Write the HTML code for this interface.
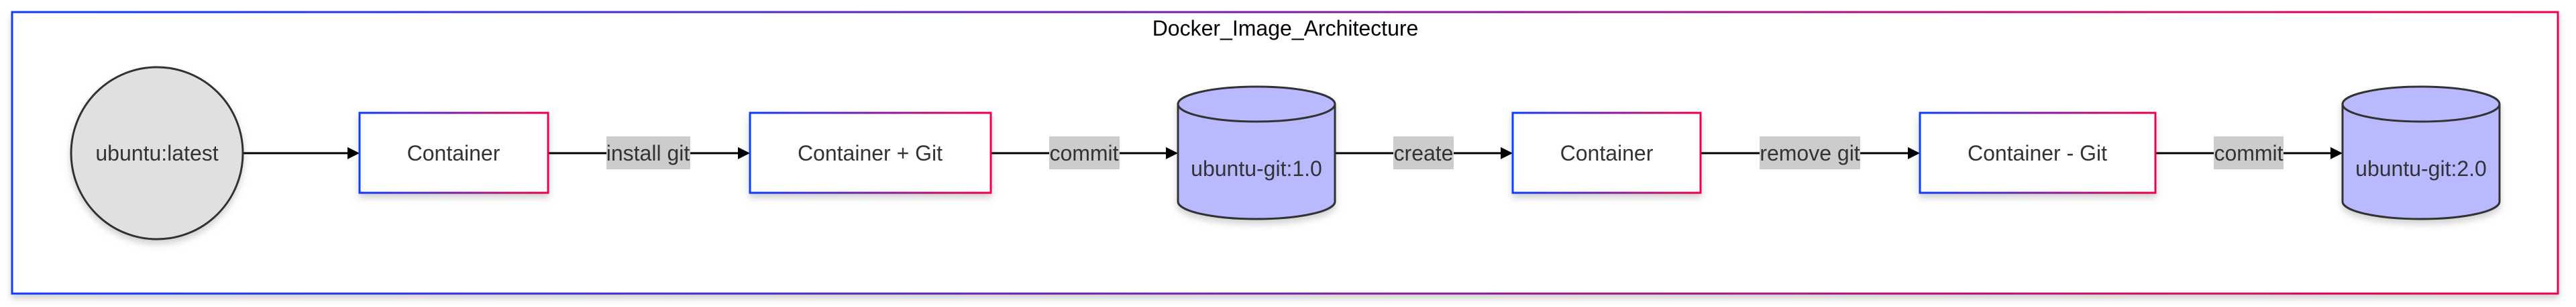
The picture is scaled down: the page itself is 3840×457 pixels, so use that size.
<!DOCTYPE html>
<html><head><meta charset="utf-8"><style>
html,body{margin:0;padding:0;background:#fff;width:3840px;height:457px;overflow:hidden}
svg{display:block}
text{font-family:"Liberation Sans",Arial,sans-serif;font-size:32px;fill:#333}
</style></head><body>
<svg width="3840" height="457" viewBox="0 0 3840 457">
<defs>
<linearGradient id="g" x1="0" y1="0" x2="1" y2="0">
<stop offset="0" stop-color="#0a3cff"/><stop offset="1" stop-color="#f0004a"/>
</linearGradient>
<filter id="sh" x="-20%" y="-20%" width="140%" height="150%">
<feDropShadow dx="0" dy="6" stdDeviation="5" flood-color="#000" flood-opacity="0.18"/>
</filter>
<marker id="ah" markerWidth="10" markerHeight="10" refX="9" refY="5" orient="auto" markerUnits="userSpaceOnUse" viewBox="0 0 10 10">
</marker>
</defs>
<rect x="18" y="18" width="3795" height="419" fill="#fff" stroke="url(#g)" stroke-width="3" filter="url(#sh)"/>
<text x="1916" y="53" text-anchor="middle" style="fill:#000">Docker_Image_Architecture</text>

<g stroke="#000" stroke-width="3">
<line x1="361" y1="228" x2="520" y2="228"/>
<line x1="817" y1="228" x2="1102" y2="228"/>
<line x1="1477" y1="228" x2="1740" y2="228"/>
<line x1="1990" y1="228" x2="2239" y2="228"/>
<line x1="2535" y1="228" x2="2846" y2="228"/>
<line x1="3213" y1="228" x2="3476" y2="228"/>
</g>
<g fill="#000">
<polygon points="518,219 536,228 518,237"/>
<polygon points="1100,219 1118,228 1100,237"/>
<polygon points="1738,219 1756,228 1738,237"/>
<polygon points="2237,219 2255,228 2237,237"/>
<polygon points="2844,219 2862,228 2844,237"/>
<polygon points="3474,219 3492,228 3474,237"/>
</g>

<circle cx="234" cy="228" r="128" fill="#e0e0e0" stroke="#333" stroke-width="3" filter="url(#sh)"/>
<text x="234" y="239" text-anchor="middle">ubuntu:latest</text>

<g fill="#fff" stroke="url(#g)" stroke-width="3" filter="url(#sh)">
<rect x="536" y="168" width="281" height="119"/>
<rect x="1118" y="168" width="359" height="119"/>
<rect x="2255" y="168" width="280" height="119"/>
<rect x="2862" y="168" width="351" height="119"/>
</g>
<text x="676" y="239" text-anchor="middle">Container</text>
<text x="1297" y="239" text-anchor="middle">Container + Git</text>
<text x="2395" y="239" text-anchor="middle">Container</text>
<text x="3037" y="239" text-anchor="middle">Container - Git</text>

<g fill="#b9b9ff" stroke="#333" stroke-width="3" filter="url(#sh)">
<path d="M1756,155 A117,26 0 0 1 1990,155 L1990,300 A117,26 0 0 1 1756,300 Z"/>
<path d="M3492,155 A117,26 0 0 1 3726,155 L3726,300 A117,26 0 0 1 3492,300 Z"/>
</g>
<g fill="none" stroke="#333" stroke-width="3">
<path d="M1756,155 A117,26 0 0 0 1990,155"/>
<path d="M3492,155 A117,26 0 0 0 3726,155"/>
</g>
<text x="1873" y="262" text-anchor="middle">ubuntu-git:1.0</text>
<text x="3609" y="262" text-anchor="middle">ubuntu-git:2.0</text>

<g fill="#cccccc">
<rect x="904" y="203" width="125" height="49"/>
<rect x="1564" y="203" width="105" height="49"/>
<rect x="2077" y="203" width="90" height="49"/>
<rect x="2623" y="203" width="150" height="49"/>
<rect x="3300" y="203" width="104" height="49"/>
</g>
<text x="966" y="239" text-anchor="middle">install git</text>
<text x="1616" y="239" text-anchor="middle">commit</text>
<text x="2122" y="239" text-anchor="middle">create</text>
<text x="2698" y="239" text-anchor="middle">remove git</text>
<text x="3352" y="239" text-anchor="middle">commit</text>
</svg>
</body></html>
